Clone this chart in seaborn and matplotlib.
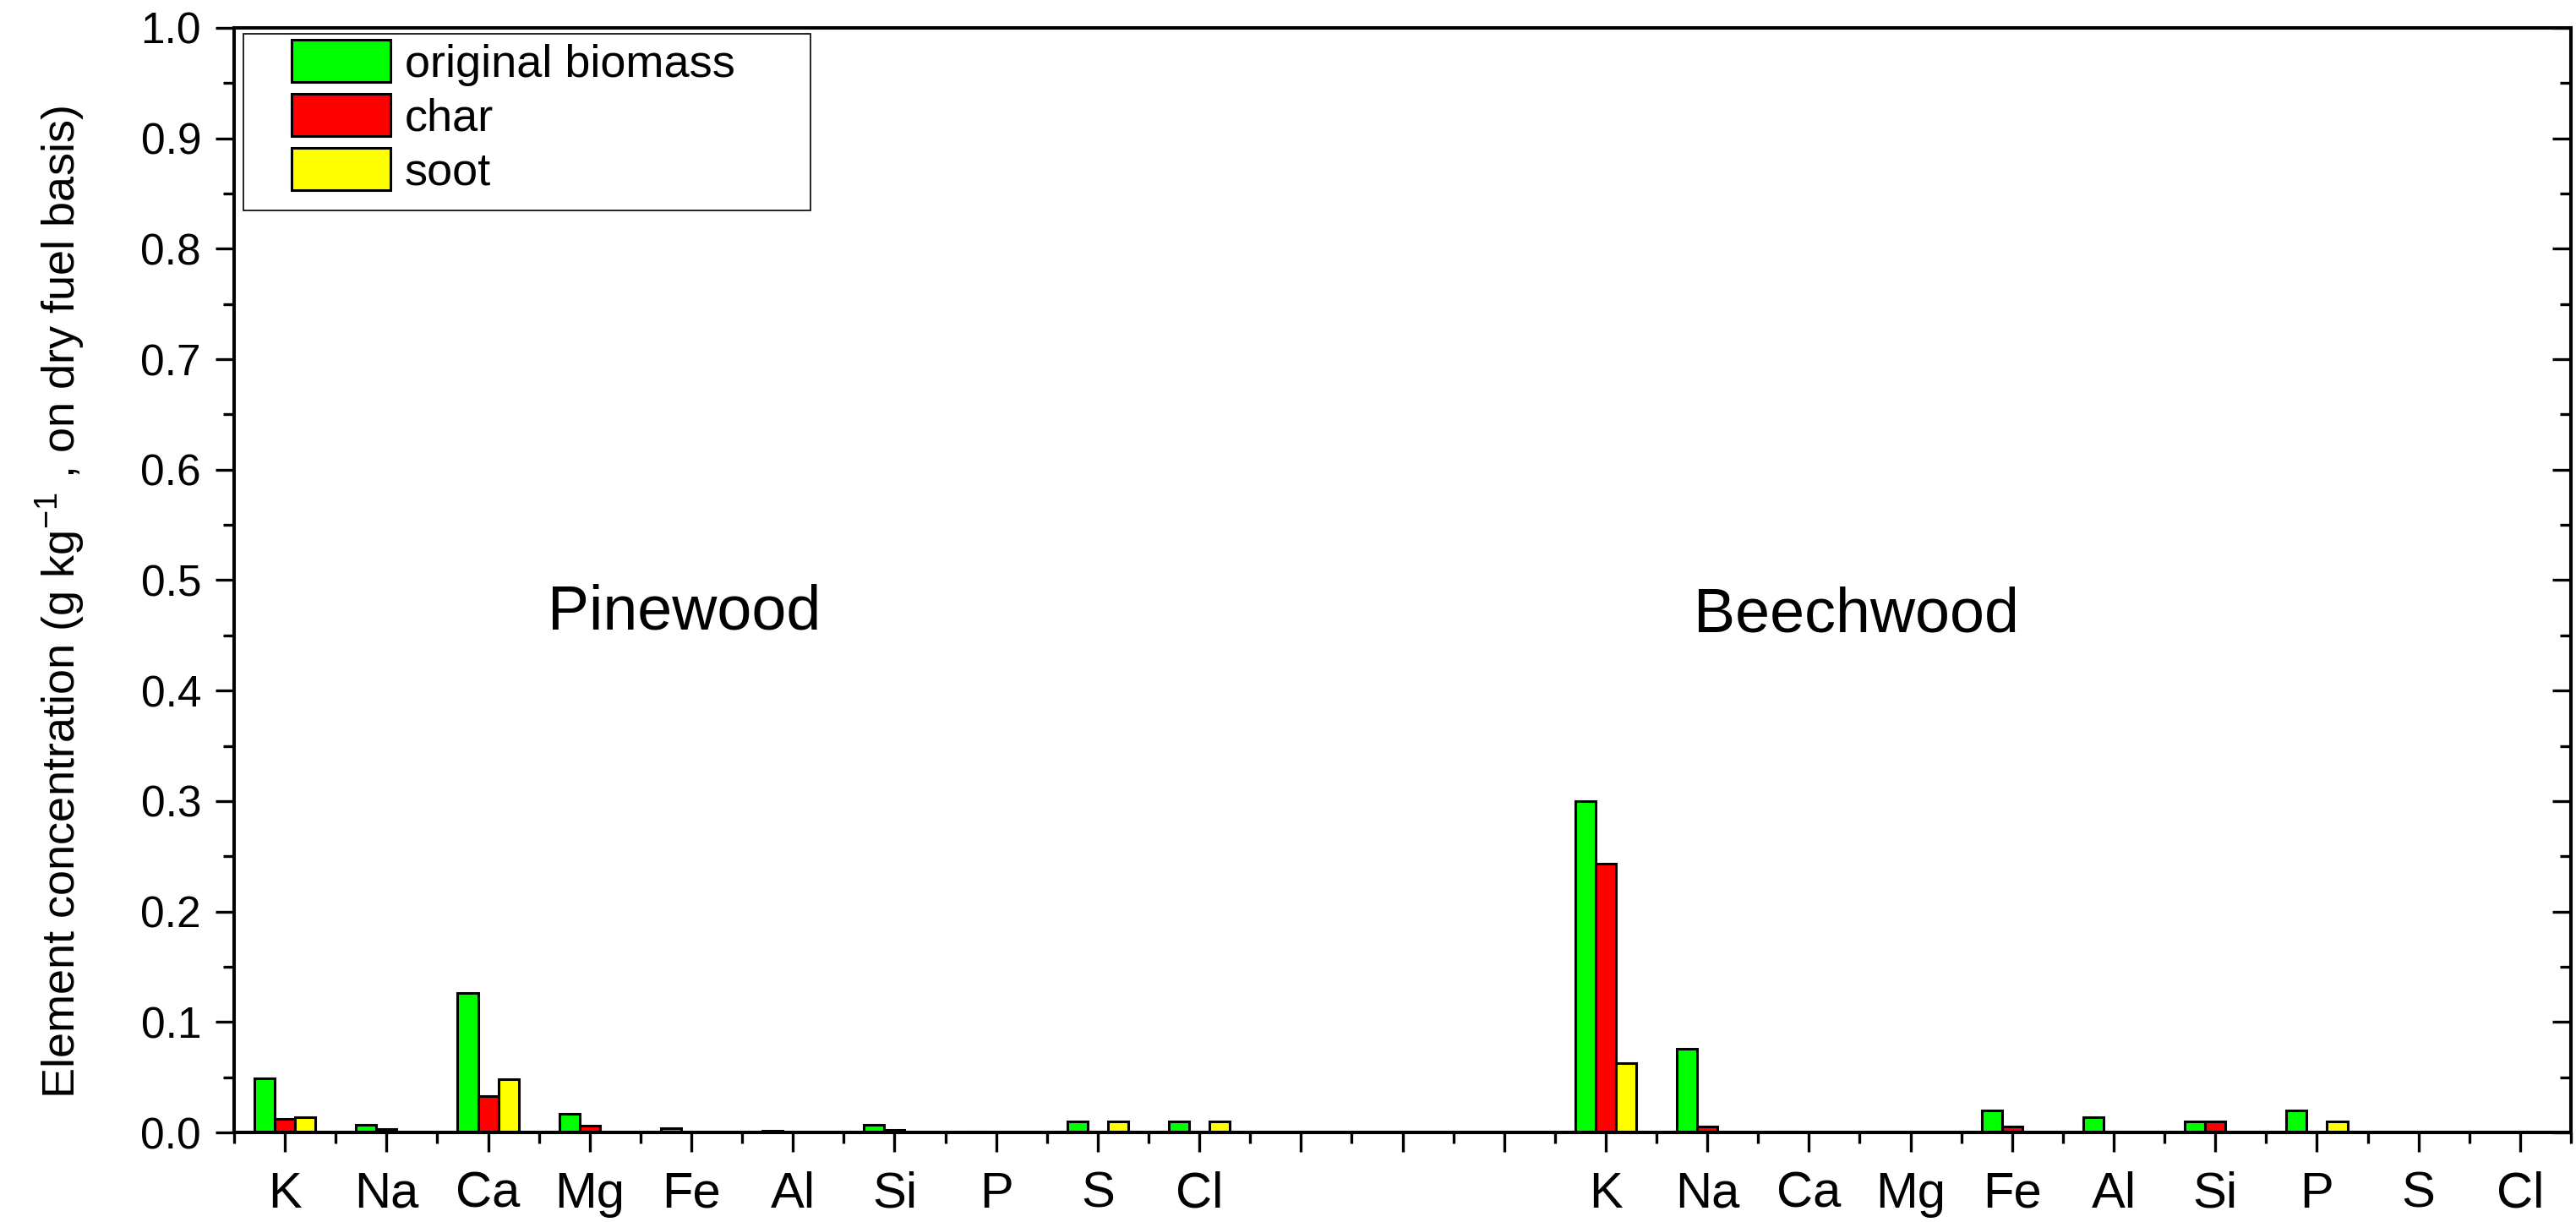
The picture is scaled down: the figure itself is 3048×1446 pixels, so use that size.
import numpy as np
import pandas as pd
import matplotlib
matplotlib.use("Agg")
import matplotlib.pyplot as plt
import seaborn as sns
from matplotlib.patches import Patch, Rectangle
from matplotlib.ticker import MultipleLocator, FixedLocator, FormatStrFormatter

# ---------------- data ----------------
elements = ["K", "Na", "Ca", "Mg", "Fe", "Al", "Si", "P", "S", "Cl"]
series = ["original biomass", "char", "soot"]
colors = ["#00FF00", "#FF0000", "#FFFF00"]
groups = ["Pinewood", "Beechwood"]

pine_biomass = [0.049, 0.007, 0.126, 0.017, 0.004, 0.0015, 0.007, 0.001, 0.010, 0.010]
pine_char    = [0.012, 0.003, 0.033, 0.006, 0.0, 0.0, 0.002, 0.0, 0.0, 0.0]
pine_soot    = [0.014, 0.0, 0.048, 0.0, 0.0, 0.0, 0.0, 0.0, 0.010, 0.010]

beech_biomass = [0.300, 0.076, 0.001, 0.0006, 0.020, 0.014, 0.010, 0.020, 0.0, 0.0]
beech_char    = [0.243, 0.005, 0.0, 0.0, 0.005, 0.001, 0.010, 0.0, 0.0, 0.0]
beech_soot    = [0.063, 0.0, 0.0, 0.0, 0.0, 0.0, 0.0, 0.010, 0.0, 0.0]

group_values = [
    [pine_biomass, pine_char, pine_soot],
    [beech_biomass, beech_char, beech_soot],
]

# ---------------- layout constants ----------------
gap_slots = 3
n_el = len(elements)
n_slots = 2 * n_el + gap_slots

rows = []
for gi, vals in enumerate(group_values):
    offset = gi * (n_el + gap_slots)
    for si, s in enumerate(series):
        for ei, e in enumerate(elements):
            rows.append({"pos": offset + ei, "series": s, "element": e,
                         "group": groups[gi], "value": vals[si][ei]})
df = pd.DataFrame(rows)

sns.set_theme(style="white")
plt.rcParams["font.family"] = ["Liberation Sans", "DejaVu Sans"]
plt.rcParams["mathtext.fontset"] = "custom"
plt.rcParams["mathtext.rm"] = "Liberation Sans"
plt.rcParams["mathtext.it"] = "Liberation Sans"
plt.rcParams["mathtext.bf"] = "Liberation Sans"
for k in ["text.color", "axes.labelcolor", "xtick.color", "ytick.color", "axes.edgecolor"]:
    plt.rcParams[k] = "black"

fig = plt.figure(figsize=(15.24, 7.23), dpi=200)
ax = fig.add_axes([277 / 3048, 106 / 1446, 2765 / 3048, 1307 / 1446])

sns.barplot(data=df, x="pos", y="value", hue="series", hue_order=series,
            palette=colors, native_scale=True, width=0.6, saturation=1,
            edgecolor="black", linewidth=1.1, errorbar=None, legend=False, ax=ax)

ax.set_xlim(-0.5, n_slots - 0.5)
ax.set_ylim(0, 1.0)
ax.set_xlabel("")
ax.set_ylabel("Element concentration (g kg$^{-1}$ , on dry fuel basis)", fontsize=19.5)
ax.yaxis.set_label_coords(-0.063, 0.48)

# x ticks
tick_labels = elements + [""] * gap_slots + elements
ax.set_xticks(list(range(n_slots)))
ax.set_xticklabels(tick_labels)
ax.xaxis.set_minor_locator(FixedLocator(np.arange(-0.5, n_slots, 1.0)))
ax.tick_params(axis="x", which="major", direction="out", length=8.4, width=1.2,
               labelsize=21.5, pad=8, bottom=True, top=False, color="black")
ax.tick_params(axis="x", which="minor", direction="out", length=4.6, width=1.2,
               bottom=True, top=False, color="black")

# y ticks (left, outward)
ax.yaxis.set_major_locator(MultipleLocator(0.1))
ax.yaxis.set_minor_locator(MultipleLocator(0.05))
ax.yaxis.set_major_formatter(FormatStrFormatter("%.1f"))
ax.tick_params(axis="y", which="major", direction="out", length=8, width=1.2,
               labelsize=18.5, pad=6, left=True, right=False, color="black")
ax.tick_params(axis="y", which="minor", direction="out", length=4.6, width=1.2,
               left=True, right=False, color="black")

# right axis ticks (inward, no labels)
ax2 = ax.twinx()
ax2.set_ylim(0, 1.0)
ax2.yaxis.set_major_locator(MultipleLocator(0.1))
ax2.yaxis.set_minor_locator(MultipleLocator(0.05))
ax2.tick_params(axis="y", which="major", direction="in", length=8, width=1.2,
                right=True, labelright=False, color="black")
ax2.tick_params(axis="y", which="minor", direction="in", length=4.6, width=1.2,
                right=True, labelright=False, color="black")
ax2.grid(False)

for a in (ax, ax2):
    for sp in a.spines.values():
        sp.set_linewidth(1.45)
        sp.set_color("black")
        sp.set_visible(True)
ax.grid(False)

# group annotations
ax.text(3.93, 0.456, groups[0], ha="center", va="baseline", fontsize=26.5)
ax.text(15.47, 0.453, groups[1], ha="center", va="baseline", fontsize=26.5)

# legend
handles = [Patch(facecolor=c, edgecolor="black", linewidth=1.1) for c in colors]
ax.legend(handles, series, loc="upper left", bbox_to_anchor=(0.0245, 0.9893),
          frameon=False, borderpad=0, borderaxespad=0, handlelength=2.17,
          handleheight=1.05, handletextpad=0.3, labelspacing=0.17, fontsize=19.5)
ax.add_patch(Rectangle((0.004, 0.835), 0.2428, 0.16, transform=ax.transAxes,
                       fill=False, lw=0.6, edgecolor="black", clip_on=False, zorder=5))

fig.savefig("out.png", dpi=200)
